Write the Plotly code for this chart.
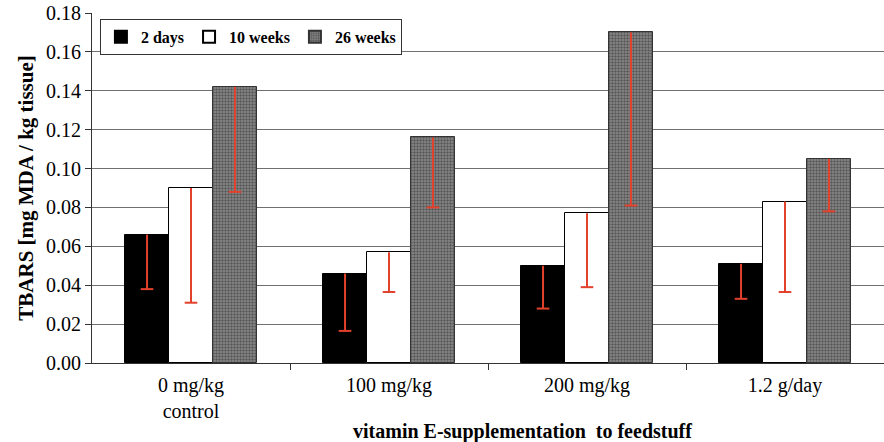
import plotly.graph_objects as go

categories = ["0 mg/kg<br>control", "100 mg/kg", "200 mg/kg", "1.2 g/day"]
series_names = ["2 days", "10 weeks", "26 weeks"]
values_2d = [0.066, 0.046, 0.050, 0.051]
values_10w = [0.090, 0.057, 0.077, 0.083]
values_26w = [0.142, 0.116, 0.170, 0.105]
err_low_2d = [0.038, 0.0165, 0.028, 0.033]
err_low_10w = [0.031, 0.0365, 0.039, 0.0365]
err_low_26w = [0.088, 0.080, 0.081, 0.078]
y_ticks = [0.00, 0.02, 0.04, 0.06, 0.08, 0.10, 0.12, 0.14, 0.16, 0.18]
x_title = "vitamin E-supplementation  to feedstuff"
y_title = "TBARS [mg MDA / kg tissue]"

series_vals = [values_2d, values_10w, values_26w]
series_err = [err_low_2d, err_low_10w, err_low_26w]
RED = "#e2412c"
FONT = "Liberation Serif, Times New Roman, serif"
bw = 0.222
offsets = [-bw, 0.0, bw]
xs = list(range(len(categories)))

fig = go.Figure()
styles = [
    dict(color="black", line=dict(color="black", width=1)),
    dict(color="white", line=dict(color="black", width=1)),
    dict(color="#8c8c8c", line=dict(color="#333", width=1),
         pattern=dict(shape=".", fgcolor="#222222", bgcolor="#8c8c8c", size=3, solidity=0.5)),
]
for name, vals, off, st in zip(series_names, series_vals, offsets, styles):
    fig.add_trace(go.Bar(
        x=[x + off for x in xs], y=vals, width=bw, name=name, marker=st,
    ))

for vals, lows, off in zip(series_vals, series_err, offsets):
    ex, ey = [], []
    for x, v, lo in zip(xs, vals, lows):
        ex += [x + off, x + off, None]
        ey += [v, lo, None]
    fig.add_trace(go.Scatter(x=ex, y=ey, mode="lines", line=dict(color=RED, width=2),
                             showlegend=False, hoverinfo="skip"))
    fig.add_trace(go.Scatter(x=[x + off for x in xs], y=lows, mode="markers",
                             marker=dict(symbol="line-ew", size=9, line=dict(color=RED, width=2)),
                             showlegend=False, hoverinfo="skip"))

fig.update_layout(
    width=884, height=442,
    margin=dict(l=92, r=0, t=13, b=79, autoexpand=False),
    paper_bgcolor="white", plot_bgcolor="white",
    font=dict(family=FONT, size=16, color="black"),
    bargap=0,
    legend=dict(orientation="h", x=0.01, y=0.983, xanchor="left", yanchor="top",
                bordercolor="#333", borderwidth=1, bgcolor="white",
                font=dict(family=FONT, size=16, color="black", weight="bold"),
                itemwidth=30, tracegroupgap=0, itemsizing="constant"),
    xaxis=dict(range=[-0.5, 3.5], tickvals=xs, ticktext=categories,
               ticks="outside", ticklen=4, tickcolor="rgba(0,0,0,0)",
               automargin=False,
               showgrid=False, zeroline=False, showline=True, linecolor="#333", linewidth=1,
               tickfont=dict(family=FONT, size=20),
               minor=dict(tickmode="array", tickvals=[0.5, 1.5, 2.5], ticks="outside",
                          ticklen=6, tickcolor="#333", showgrid=False)),
    yaxis=dict(range=[0, 0.18], tickvals=y_ticks, tickformat=".2f", ticks="outside",
               automargin=False,
               ticklen=6, tickcolor="#333", showline=True, linecolor="#333", linewidth=1,
               showgrid=True, gridcolor="#707070", gridwidth=1, zeroline=False,
               tickfont=dict(family=FONT, size=20),
               title=dict(text="<b>" + y_title + "</b>",
                          font=dict(family=FONT, size=21), standoff=6)),
    annotations=[dict(text="<b>" + x_title + "</b>", xref="paper", yref="paper",
                      x=0.543, y=-0.197, xanchor="center", yanchor="middle",
                      showarrow=False, font=dict(family=FONT, size=20))],
)

fig.write_html(
    "out.html",
    config={"displayModeBar": False},
    post_script="document.body.style.margin='0';document.body.style.overflow='hidden';",
)
